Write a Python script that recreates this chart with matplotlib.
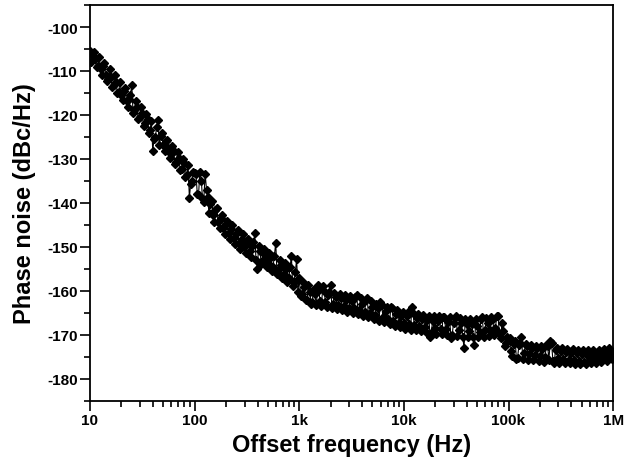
import matplotlib
matplotlib.use('Agg')
import matplotlib.pyplot as plt
from matplotlib.ticker import MultipleLocator, LogLocator, NullFormatter

plt.rcParams['font.family'] = ['Liberation Sans', 'DejaVu Sans']
plt.rcParams['font.weight'] = 'bold'
plt.rcParams['axes.unicode_minus'] = False

# offset frequency (Hz) and phase noise (dBc/Hz), read off the plot decade by decade
# (two interleaved sweeps per decade, "a" and "b")
f_d1a = [10, 10.6, 11.2, 11.9, 12.6, 13.3, 14.1, 15.0, 15.8, 16.8,
         17.8, 18.8, 20.0, 21.1, 22.4, 23.7, 25.1, 26.6, 28.2, 29.9,
         31.6, 33.5, 35.5, 37.6, 39.8, 42.2, 44.7, 47.3, 50.1, 53.1,
         56.2, 59.6, 63.1, 66.8, 70.8, 75.0, 79.4, 84.1, 89.1, 94.4]
pn_d1a = [-105.5, -106.5, -107.2, -108.8, -109.6, -108.9, -110.8, -111.9, -111.3, -113.2,
          -112.6, -114.7, -115.4, -114.6, -116.9, -116.4, -113.2, -118.9, -118.2, -120.5,
          -119.5, -121.8, -121.0, -123.4, -128.2, -124.9, -121.2, -124.8, -126.9, -126.0,
          -127.5, -128.9, -128.3, -130.6, -129.8, -132.2, -131.0, -133.6, -138.8, -135.0]
f_d1b = [10.3, 10.9, 11.6, 12.2, 13.0, 13.7, 14.6, 15.4, 16.3, 17.3,
         18.3, 19.4, 20.5, 21.7, 23.0, 24.3, 25.8, 27.3, 28.9, 30.7,
         32.5, 34.4, 36.5, 38.6, 40.9, 43.3, 45.9, 48.7, 51.6, 54.6,
         57.8, 61.3, 64.9, 68.7, 72.9, 77.2, 81.8, 86.6, 91.7, 97.2]
pn_d1b = [-108.0, -105.6, -109.2, -106.8, -110.8, -108.2, -112.2, -109.6, -113.7, -111.0,
          -115.1, -112.4, -116.6, -113.9, -118.1, -115.4, -119.6, -116.9, -121.0, -118.3,
          -122.5, -119.8, -124.0, -121.3, -125.4, -122.8, -126.9, -124.2, -128.3, -125.6,
          -129.7, -127.1, -131.2, -128.5, -132.6, -130.0, -134.1, -131.4, -135.6, -133.0]

f_d2a = [100, 106, 112, 119, 126, 133, 141, 150, 158, 168,
         178, 188, 200, 211, 224, 237, 251, 266, 282, 299,
         316, 335, 355, 376, 398, 422, 447, 473, 501, 531,
         562, 596, 631, 668, 708, 750, 794, 841, 891, 944]
pn_d2a = [-133.2, -137.9, -133.0, -139.2, -133.4, -138.6, -140.2, -142.8, -141.6, -144.3,
          -143.4, -145.7, -144.8, -146.9, -146.0, -148.0, -147.1, -149.0, -148.2, -150.1,
          -149.0, -150.9, -149.8, -146.9, -155.0, -150.9, -152.9, -151.8, -153.7, -152.6,
          -154.5, -149.0, -155.3, -154.2, -156.1, -155.0, -157.1, -152.0, -158.0, -152.8]
f_d2b = [103, 109, 116, 122, 130, 137, 146, 154, 163, 173,
         183, 194, 205, 217, 230, 243, 258, 273, 289, 307,
         325, 344, 365, 386, 409, 433, 459, 487, 516, 546,
         578, 613, 649, 687, 729, 772, 818, 866, 917, 972]
pn_d2b = [-133.4, -138.3, -135.0, -139.9, -137.0, -142.2, -139.6, -144.3, -141.2, -145.6,
          -142.7, -147.1, -144.0, -148.3, -145.1, -149.4, -146.2, -150.4, -147.1, -151.4,
          -148.1, -152.3, -148.9, -153.0, -149.7, -153.9, -150.5, -154.6, -151.3, -155.5,
          -152.1, -156.2, -152.9, -157.1, -153.7, -157.9, -154.6, -159.0, -155.7, -160.2]

f_d3a = [1000, 1060, 1120, 1190, 1260, 1330, 1410, 1500, 1580, 1680,
         1780, 1880, 2000, 2110, 2240, 2370, 2510, 2660, 2820, 2990,
         3160, 3350, 3550, 3760, 3980, 4220, 4470, 4730, 5010, 5310,
         5620, 5960, 6310, 6680, 7080, 7500, 7940, 8410, 8910, 9440]
pn_d3a = [-157.0, -160.8, -159.2, -162.0, -160.3, -162.5, -160.8, -158.6, -162.4, -158.8,
          -162.6, -161.0, -158.7, -162.9, -161.4, -163.1, -161.6, -163.5, -162.0, -163.8,
          -162.3, -164.0, -161.0, -164.3, -162.9, -164.8, -161.7, -165.0, -163.6, -165.5,
          -164.0, -162.6, -166.0, -164.6, -166.5, -163.7, -166.8, -165.3, -167.2, -165.8]
f_d3b = [1030, 1090, 1160, 1220, 1300, 1370, 1460, 1540, 1630, 1730,
         1830, 1940, 2050, 2170, 2300, 2430, 2580, 2730, 2890, 3070,
         3250, 3440, 3650, 3860, 4090, 4330, 4590, 4870, 5160, 5460,
         5780, 6130, 6490, 6870, 7290, 7720, 8180, 8660, 9170, 9720]
pn_d3b = [-161.2, -157.9, -162.1, -158.6, -162.9, -159.5, -163.3, -159.8, -163.5, -160.0,
          -163.7, -160.2, -163.9, -160.4, -164.1, -160.6, -164.3, -160.9, -164.8, -161.2,
          -165.0, -161.5, -165.3, -161.7, -165.6, -162.1, -166.0, -162.4, -166.4, -162.9,
          -166.8, -163.2, -167.1, -163.6, -167.5, -163.9, -167.9, -164.4, -168.3, -164.8]

f_d4a = [10000, 10600, 11200, 11900, 12600, 13300, 14100, 15000, 15800, 16800,
         17800, 18800, 20000, 21100, 22400, 23700, 25100, 26600, 28200, 29900,
         31600, 33500, 35500, 37600, 39800, 42200, 44700, 47300, 50100, 53100,
         56200, 59600, 63100, 66800, 70800, 75000, 79400, 84100, 89100, 94400]
pn_d4a = [-167.4, -165.8, -167.6, -163.6, -167.8, -166.1, -168.0, -166.3, -168.2, -166.6,
          -170.6, -166.8, -168.4, -166.9, -168.6, -165.9, -168.7, -167.1, -170.8, -167.2,
          -165.6, -168.9, -167.4, -172.9, -167.5, -169.2, -167.6, -172.2, -168.0, -169.4,
          -165.9, -169.0, -167.2, -168.8, -166.4, -168.5, -165.8, -170.8, -169.2, -171.8]
f_d4b = [10300, 10900, 11600, 12200, 13000, 13700, 14600, 15400, 16300, 17300,
         18300, 19400, 20500, 21700, 23000, 24300, 25800, 27300, 28900, 30700,
         32500, 34400, 36500, 38600, 40900, 43300, 45900, 48700, 51600, 54600,
         57800, 61300, 64900, 68700, 72900, 77200, 81800, 86600, 91700, 97200]
pn_d4b = [-168.6, -164.9, -168.8, -165.0, -169.0, -165.2, -169.2, -165.4, -169.4, -165.6,
          -169.6, -165.7, -169.7, -165.8, -169.8, -165.9, -170.0, -166.0, -170.1, -166.1,
          -170.2, -166.2, -170.4, -166.3, -170.5, -166.4, -170.6, -166.5, -170.5, -166.4,
          -170.4, -166.2, -170.2, -166.0, -170.0, -165.8, -169.6, -167.2, -172.6, -170.6]

f_d5a = [100000, 106000, 112000, 119000, 126000, 133000, 141000, 150000, 158000, 168000,
         178000, 188000, 200000, 211000, 224000, 237000, 251000, 266000, 282000, 299000,
         316000, 335000, 355000, 376000, 398000, 422000, 447000, 473000, 501000, 531000,
         562000, 596000, 631000, 668000, 708000, 750000, 794000, 841000, 891000, 944000,
         1000000]
pn_d5a = [-171.2, -173.6, -172.0, -175.5, -172.2, -170.5, -174.1, -172.6, -174.3, -172.9,
          -174.6, -173.0, -174.8, -173.2, -175.0, -172.6, -171.4, -176.0, -173.4, -175.2,
          -173.7, -175.5, -174.0, -175.7, -174.1, -175.8, -174.2, -176.0, -174.3, -176.1,
          -174.5, -175.9, -174.6, -176.0, -174.6, -175.7, -174.3, -175.4, -173.8, -174.9,
          -173.8]
f_d5b = [103000, 109000, 116000, 122000, 130000, 137000, 146000, 154000, 163000, 173000,
         183000, 194000, 205000, 217000, 230000, 243000, 258000, 273000, 289000, 307000,
         325000, 344000, 365000, 386000, 409000, 433000, 459000, 487000, 516000, 546000,
         578000, 613000, 649000, 687000, 729000, 772000, 818000, 866000, 917000, 972000]
pn_d5b = [-170.8, -174.9, -171.4, -175.3, -171.8, -175.5, -172.1, -175.7, -172.3, -175.8,
          -172.5, -176.0, -172.6, -176.1, -172.4, -175.8, -171.9, -176.3, -172.9, -176.4,
          -173.1, -176.5, -173.2, -176.5, -173.3, -176.6, -173.4, -176.6, -173.5, -176.6,
          -173.5, -176.5, -173.5, -176.4, -173.4, -176.2, -173.2, -175.9, -172.9, -175.5]

pairs = sorted(zip(f_d1a + f_d1b + f_d2a + f_d2b + f_d3a + f_d3b + f_d4a + f_d4b + f_d5a + f_d5b,
                   pn_d1a + pn_d1b + pn_d2a + pn_d2b + pn_d3a + pn_d3b + pn_d4a + pn_d4b + pn_d5a + pn_d5b))
freq = [p[0] for p in pairs]
noise = [p[1] for p in pairs]

xticks = [10, 100, 1e3, 1e4, 1e5, 1e6]
xlabels = ['10', '100', '1k', '10k', '100k', '1M']

fig = plt.figure(figsize=(6.25, 4.64), dpi=100)
ax = fig.add_axes([0.144, 0.134, 0.837, 0.853])

ax.plot(freq, noise, color='black', lw=0.8, marker='D', ms=4.5,
        markerfacecolor='black', markeredgecolor='black')

ax.set_xscale('log')
ax.set_xlim(10, 1e6)
ax.set_ylim(-185, -95)
ax.set_xticks(xticks)
ax.set_xticklabels(xlabels)
ax.xaxis.set_minor_locator(LogLocator(base=10, subs=range(2, 10)))
ax.xaxis.set_minor_formatter(NullFormatter())
ax.yaxis.set_minor_locator(MultipleLocator(5))
ax.set_yticks(range(-180, -99, 10))

ax.tick_params(which='both', direction='out', top=False, right=False,
               width=1.2, labelsize=11, pad=2)
ax.tick_params(which='major', length=7)
ax.tick_params(which='minor', length=4)
for s in ax.spines.values():
    s.set_linewidth(1.3)

ax.set_xlabel('Offset frequency (Hz)', fontsize=17, fontweight='bold', labelpad=4)
ax.set_ylabel('Phase noise (dBc/Hz)', fontsize=17, fontweight='bold', labelpad=8)

fig.savefig('out.png', dpi=100)
